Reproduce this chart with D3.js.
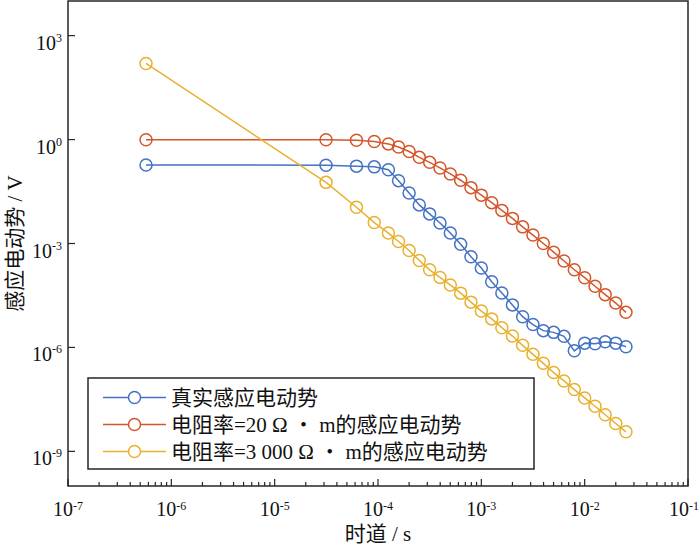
<!DOCTYPE html>
<html>
<head>
<meta charset="utf-8">
<script src="https://cdn.jsdelivr.net/npm/d3@7"></script>
<style>
  html, body { margin: 0; padding: 0; background: #fff; }
  svg { display: block; }
</style>
</head>
<body>
<svg id="chart" width="700" height="548"></svg>
<script>
// ---- data ----
const times = [5.69e-7, 3.14e-5, 6.19e-5, 9.2e-5,
  1.26e-4, 1.58e-4, 2.0e-4, 2.51e-4, 3.16e-4, 3.98e-4, 5.01e-4, 6.31e-4, 7.94e-4,
  1.0e-3, 1.26e-3, 1.58e-3, 2.0e-3, 2.51e-3, 3.16e-3, 3.98e-3, 5.01e-3, 6.31e-3, 7.94e-3,
  1.0e-2, 1.26e-2, 1.58e-2, 2.0e-2, 2.51e-2];

const trueEmf = [0.185, 0.182, 0.171, 0.163,
  0.135, 0.0652, 0.0288, 0.0130, 0.00716, 0.00389, 0.00200, 9.53e-4, 4.16e-4,
  1.96e-4, 7.87e-5, 3.74e-5, 1.69e-5, 7.71e-6, 4.57e-6, 3.05e-6, 2.72e-6, 2.09e-6, 7.98e-7,
  1.33e-6, 1.28e-6, 1.45e-6, 1.33e-6, 1.05e-6];

const emf20 = [0.99, 0.99, 0.96, 0.88,
  0.75, 0.61, 0.452, 0.307, 0.220, 0.152, 0.102, 0.067, 0.0410,
  0.0249, 0.0151, 0.00904, 0.00531, 0.00302, 0.00175, 9.98e-4, 5.62e-4, 3.13e-4, 1.75e-4,
  1.03e-4, 5.83e-5, 3.34e-5, 1.91e-5, 1.03e-5];

const emf3000 = [157, 0.0582, 0.0111, 0.00402,
  0.00200, 0.00114, 6.27e-4, 3.23e-4, 1.74e-4, 1.05e-4, 6.36e-5, 3.69e-5, 2.03e-5,
  1.12e-5, 6.67e-6, 3.72e-6, 2.13e-6, 1.15e-6, 6.32e-7, 3.48e-7, 1.88e-7, 1.08e-7, 6.08e-8,
  3.48e-8, 2.01e-8, 1.14e-8, 6.38e-9, 3.66e-9];

const seriesNames = ["真实感应电动势", "电阻率=20 Ω ・ m的感应电动势", "电阻率=3 000 Ω ・ m的感应电动势"];
const seriesColors = ["#4472c4", "#d4562a", "#e8b02e"];

const xTickExps = [-7, -6, -5, -4, -3, -2, -1];
const yTickExps = [3, 0, -3, -6, -9];
const xTitle = "时道 / s";
const yTitle = "感应电动势 / V";

// ---- layout ----
const FONT = "'Liberation Serif', 'Noto Sans CJK SC', serif";
const L = 68, R = 688, T = 1, B = 486;
const svg = d3.select("#chart").attr("font-family", FONT);

const x = d3.scaleLog().domain([1e-7, 1e-1]).range([L, R]);
const y = d3.scaleLog().domain([1e-10, 1e4]).range([B, T]);

// frame
svg.append("rect").attr("x", L).attr("y", T).attr("width", R - L).attr("height", B - T)
  .attr("fill", "#fff").attr("stroke", "#262626").attr("stroke-width", 1.5);

// x ticks (inside): major decades + minor 2..9
const xMajor = xTickExps.map(e => Math.pow(10, e));
const xMinor = [];
for (let e = -7; e < -1; e++) for (let m = 2; m <= 9; m++) xMinor.push(m * Math.pow(10, e));

const gx = svg.append("g");
gx.selectAll("line.minor").data(xMinor).join("line").attr("class", "minor")
  .attr("x1", d => x(d)).attr("x2", d => x(d)).attr("y1", B).attr("y2", B - 4)
  .attr("stroke", "#262626").attr("stroke-width", 1.2);
gx.selectAll("line.major").data(xMajor).join("line").attr("class", "major")
  .attr("x1", d => x(d)).attr("x2", d => x(d)).attr("y1", B).attr("y2", B - 7)
  .attr("stroke", "#262626").attr("stroke-width", 1.2);

const xl = gx.selectAll("text").data(xTickExps).join("text")
  .attr("x", d => x(Math.pow(10, d)) + (d === -1 ? -4 : 0)).attr("y", B + 30)
  .attr("text-anchor", "middle").attr("fill", "#111");
xl.append("tspan").attr("font-size", 20).text("10");
xl.append("tspan").attr("font-size", 12).attr("dy", -6).text(d => d);

// y ticks (inside)
const gy = svg.append("g");
gy.selectAll("line").data(yTickExps).join("line")
  .attr("x1", L).attr("x2", L + 7).attr("y1", d => y(Math.pow(10, d))).attr("y2", d => y(Math.pow(10, d)))
  .attr("stroke", "#262626").attr("stroke-width", 1.2);
const yl = gy.selectAll("text").data(yTickExps).join("text")
  .attr("x", 62).attr("y", d => y(Math.pow(10, d)) + 14).attr("text-anchor", "end").attr("fill", "#111");
yl.append("tspan").attr("font-size", 20).text("10");
yl.append("tspan").attr("font-size", 12).attr("dy", -8).text(d => d);

// axis titles
svg.append("text").attr("x", (L + R) / 2).attr("y", 541).attr("text-anchor", "middle")
  .attr("font-size", 21).attr("fill", "#111").text(xTitle);
svg.append("text").attr("transform", `translate(22,${(T + B) / 2}) rotate(-90)`)
  .attr("text-anchor", "middle").attr("font-size", 21).attr("fill", "#111").text(yTitle);

// series
const allSeries = [trueEmf, emf20, emf3000];
const line = d3.line().x(d => x(d[0])).y(d => y(d[1]));
const gs = svg.append("g");
allSeries.forEach((vals, i) => {
  const pts = times.map((t, j) => [t, vals[j]]);
  gs.append("path").datum(pts).attr("d", line).attr("fill", "none")
    .attr("stroke", seriesColors[i]).attr("stroke-width", 1.5);
  gs.append("g").selectAll("circle").data(pts).join("circle")
    .attr("cx", d => x(d[0])).attr("cy", d => y(d[1])).attr("r", 6)
    .attr("fill", "none").attr("stroke", seriesColors[i]).attr("stroke-width", 1.5);
});

// legend
const lg = svg.append("g");
lg.append("rect").attr("x", 88).attr("y", 378).attr("width", 446).attr("height", 91)
  .attr("fill", "#fff").attr("stroke", "#262626").attr("stroke-width", 1.5);
const rowY = [397.5, 424.5, 451.5];
seriesNames.forEach((name, i) => {
  const ry = rowY[i];
  lg.append("line").attr("x1", 103).attr("x2", 166).attr("y1", ry).attr("y2", ry)
    .attr("stroke", seriesColors[i]).attr("stroke-width", 1.5);
  lg.append("circle").attr("cx", 134.5).attr("cy", ry).attr("r", 6)
    .attr("fill", "#fff").attr("stroke", seriesColors[i]).attr("stroke-width", 1.5);
  lg.append("text").attr("x", 171).attr("y", ry + 7.5).attr("font-size", 21).attr("fill", "#111").text(name);
});
</script>
</body>
</html>
